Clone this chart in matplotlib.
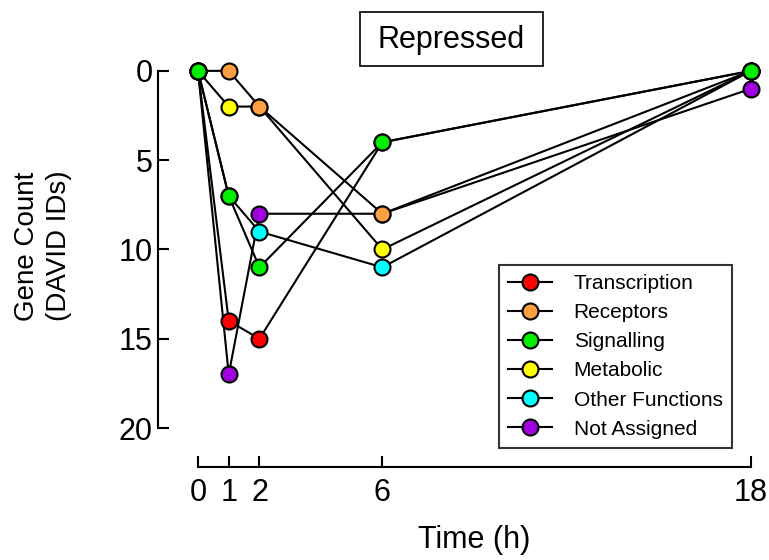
import matplotlib.pyplot as plt
from matplotlib.patches import Rectangle

plt.rcParams["font.family"] = ["Liberation Sans", "DejaVu Sans"]

time_h = [0, 1, 2, 6, 18]
transcription = [0, 14, 15, 4, 0]
receptors = [0, 0, 2, 8, 0]
signalling = [0, 7, 11, 4, 0]
metabolic = [0, 2, 2, 10, 0]
other_functions = [0, 7, 9, 11, 0]
not_assigned = [0, 17, 8, 8, 1]

series = [
    ("Transcription", transcription, "#ff0000", 4),
    ("Receptors", receptors, "#ffa040", 5),
    ("Signalling", signalling, "#00ee00", 6),
    ("Metabolic", metabolic, "#ffff00", 3),
    ("Other Functions", other_functions, "#00ffff", 2),
    ("Not Assigned", not_assigned, "#a000e0", 1),
]

fig = plt.figure(figsize=(7.69, 5.6), dpi=100)
ax = fig.add_axes([158 / 769, 1 - 467 / 560, (751 - 158) / 769, (467 - 53) / 560])

for name, vals, col, z in series:
    ax.plot(time_h, vals, "-o", color="black", lw=1.5, marker="o", ms=11.5,
            mfc=col, mec="black", mew=1.5, label=name, zorder=z, clip_on=False)

ax.set_xlim(-40 / 30.72, 18)
ax.set_ylim(22.18, -1)
ax.spines["top"].set_visible(False)
ax.spines["right"].set_visible(False)
ax.spines["left"].set_bounds(0, 20)
ax.spines["bottom"].set_bounds(0, 18)
for s in ("left", "bottom"):
    ax.spines[s].set_linewidth(1.5)
ax.set_xticks(time_h)
ax.set_yticks([0, 5, 10, 15, 20])
ax.tick_params(direction="in", length=8, width=1.5, labelsize=22)
ax.tick_params(axis="x", pad=8)
ax.tick_params(axis="y", pad=4)

ax.set_xlabel("Time (h)", fontsize=22, va="center")
ax.xaxis.set_label_coords((474 - 158) / 593, (467 - 540) / 414)
ax.set_ylabel("Gene Count\n(DAVID IDs)", fontsize=20, va="center", linespacing=1.27)
ax.yaxis.set_label_coords((43 - 158) / 593, (467 - 246) / 414)

fig.patches.append(Rectangle((360 / 769, 1 - 66 / 560), 183 / 769, 54 / 560,
                             transform=fig.transFigure, fc="white", ec="black", lw=1.2))
fig.text(451 / 769, 1 - 40 / 560, "Repressed", fontsize=22, ha="center", va="center")

leg = ax.legend(loc="lower right", bbox_to_anchor=(732 / 769, 1 - 448 / 560),
                bbox_transform=fig.transFigure, fontsize=15, frameon=True,
                fancybox=False, edgecolor="black", handlelength=2.1,
                labelspacing=0.485, borderpad=0.45, handletextpad=1.05,
                borderaxespad=0)
leg.get_frame().set_linewidth(1.5)

fig.savefig("out.png", dpi=100)
